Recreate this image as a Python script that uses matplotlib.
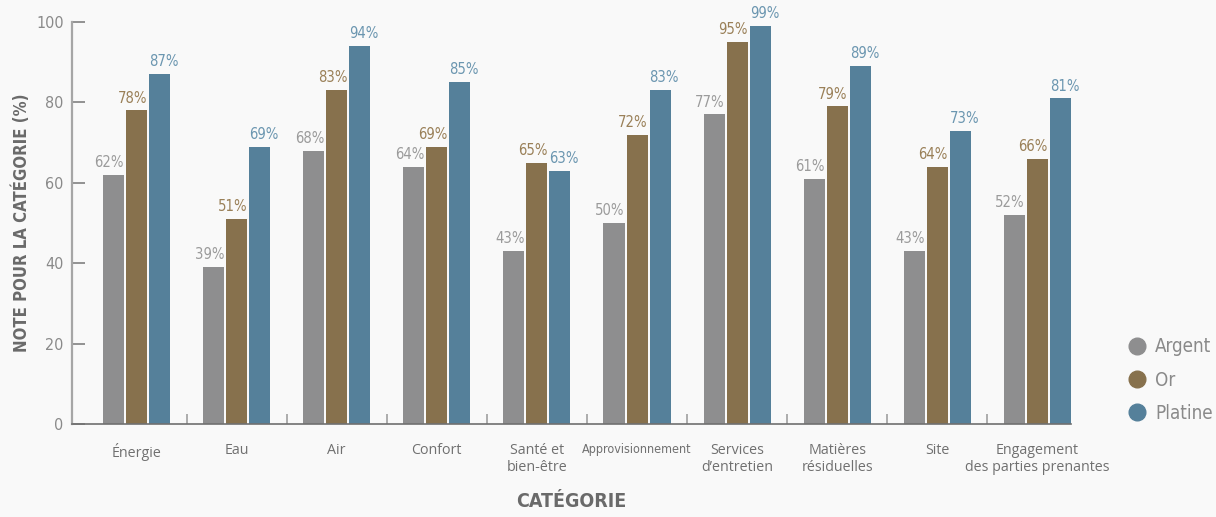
import numpy as np
import matplotlib
matplotlib.use('Agg')
import matplotlib.pyplot as plt
from matplotlib.lines import Line2D

categories = ['Énergie', 'Eau', 'Air', 'Confort', 'Santé et\nbien-être',
              'Approvisionnement', 'Services\nd\u2019entretien', 'Matières\nrésiduelles',
              'Site', 'Engagement\ndes parties prenantes']
series = ['Argent', 'Or', 'Platine']
argent = [62, 39, 68, 64, 43, 50, 77, 61, 43, 52]
gold = [78, 51, 83, 69, 65, 72, 95, 79, 64, 66]
platine = [87, 69, 94, 85, 63, 83, 99, 89, 73, 81]
yticks = [0, 20, 40, 60, 80, 100]

bar_colors = ['#8e8e8f', '#87714d', '#55809a']
label_colors = ['#9b9b9b', '#9a8058', '#6b96b0']
bg = '#f9f9f9'
cond = dict(family='DejaVu Sans', stretch='condensed')

fig = plt.figure(figsize=(12.16, 5.17), dpi=100, facecolor=bg)
ax = fig.add_axes([72/1216, 93/517, 999/1216, 402/517], facecolor=bg)

x = np.arange(len(categories))
width = 0.21
step = 0.23
for k, vals in enumerate([argent, gold, platine]):
    pos = x + (k - 1) * step
    bars = ax.bar(pos, vals, width, color=bar_colors[k], zorder=2, label=series[k])
    for b, v in zip(bars, vals):
        # first two series flush right on their bar, last one flush left
        if k < 2:
            xa, ha = b.get_x() + b.get_width(), 'right'
        else:
            xa, ha = b.get_x(), 'left'
        ax.annotate('{:d}%'.format(v), (xa, v),
                    xytext=(0, 3.5), textcoords='offset points', ha=ha, va='bottom',
                    fontsize=10.6, color=label_colors[k], **cond)

ax.set_xlim(-0.644, 9.335)
ax.set_ylim(0, 100)

# spines
for s in ['top', 'right']:
    ax.spines[s].set_visible(False)
ax.spines['left'].set_color('#a6a6a6')
ax.spines['left'].set_linewidth(1.6)
ax.spines['bottom'].set_color('#707070')
ax.spines['bottom'].set_linewidth(1.2)

ax.set_yticks(yticks)
ax.set_yticklabels([str(t) for t in yticks], fontsize=11.5, color='#8a8a8a', **cond)
ax.tick_params(axis='y', direction='in', length=9.5, width=1.3, color='#8a8a8a', pad=6)

# separators between groups as minor ticks, labels on major ticks
ax.set_xticks(x)
ax.set_xticks(x[:-1] + 0.5, minor=True)
ax.tick_params(axis='x', which='major', length=0, pad=14)
ax.tick_params(axis='x', which='minor', direction='in', length=7, width=1.2, color='#a0a0a0')
ax.set_xticklabels(categories, fontsize=10.3, color='#707070', family='Open Sans',
                   linespacing=1.15, va='top')
for lab in ax.get_xticklabels():
    if lab.get_text() == 'Approvisionnement':
        lab.set_fontsize(9)
        lab.set_family('DejaVu Sans')
        lab.set_fontstretch('condensed')

ax.set_xlabel('CATÉGORIE', fontsize=14, fontweight='bold', color='#6a6a6a', labelpad=12, **cond)
fig.text(22/1216, 1 - 223/517, 'NOTE POUR LA CATÉGORIE (%)', rotation=90, ha='center',
         va='center', fontsize=12, fontweight='bold', color='#6a6a6a', **cond)

handles = [Line2D([], [], marker='o', linestyle='', markersize=12, color=c) for c in bar_colors]
leg = fig.legend(handles, series, loc='center left', bbox_to_anchor=(1126/1216, 1 - 380/517),
                 frameon=False, handletextpad=0.35, labelspacing=0.75, handlelength=1.2,
                 borderpad=0, borderaxespad=0,
                 prop=dict(size=13.5, family='DejaVu Sans', stretch='condensed'))
for t in leg.get_texts():
    t.set_color('#8a8a8a')

plt.savefig('out.png', dpi=100, facecolor=bg)
